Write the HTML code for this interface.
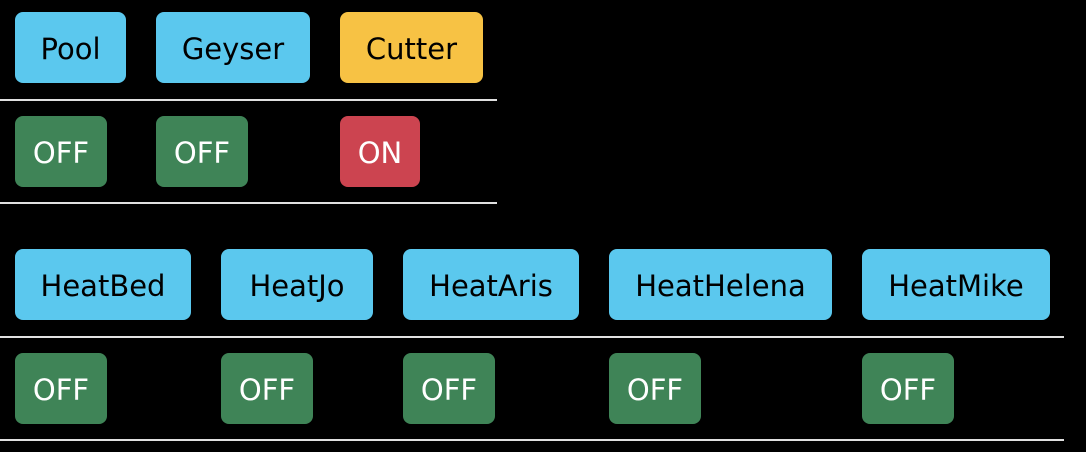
<!DOCTYPE html>
<html><head><meta charset="utf-8"><style>
html,body{margin:0;padding:0;background:#000;width:1086px;height:452px;overflow:hidden;position:relative;font-family:"DejaVu Sans","Liberation Sans",sans-serif}
.b{position:absolute;height:71px;border-radius:8px;display:flex;align-items:center;justify-content:center;font-size:29px;box-sizing:border-box;padding-top:2px}
.blue{background:#5bc8ee;color:#000}
.yel{background:#f7c244;color:#000}
.grn{background:#3f8457;color:#fff;width:92px}
.red{background:#cc4450;color:#fff;width:80px}
.l{position:absolute;left:0;height:2px;background:#e0e0e0}
</style></head><body>
<div class="b blue" style="left:15px;top:12px;width:111px">Pool</div>
<div class="b blue" style="left:156px;top:12px;width:154px">Geyser</div>
<div class="b yel" style="left:340px;top:12px;width:143px">Cutter</div>
<div class="l" style="top:99px;width:497px"></div>
<div class="b grn" style="left:15px;top:116px">OFF</div>
<div class="b grn" style="left:156px;top:116px">OFF</div>
<div class="b red" style="left:340px;top:116px">ON</div>
<div class="l" style="top:202px;width:497px"></div>
<div class="b blue" style="left:15px;top:249px;width:176px">HeatBed</div>
<div class="b blue" style="left:221px;top:249px;width:152px">HeatJo</div>
<div class="b blue" style="left:403px;top:249px;width:176px">HeatAris</div>
<div class="b blue" style="left:609px;top:249px;width:223px">HeatHelena</div>
<div class="b blue" style="left:862px;top:249px;width:188px">HeatMike</div>
<div class="l" style="top:336px;width:1064px"></div>
<div class="b grn" style="left:15px;top:353px">OFF</div>
<div class="b grn" style="left:221px;top:353px">OFF</div>
<div class="b grn" style="left:403px;top:353px">OFF</div>
<div class="b grn" style="left:609px;top:353px">OFF</div>
<div class="b grn" style="left:862px;top:353px">OFF</div>
<div class="l" style="top:439px;width:1064px"></div>
</body></html>
